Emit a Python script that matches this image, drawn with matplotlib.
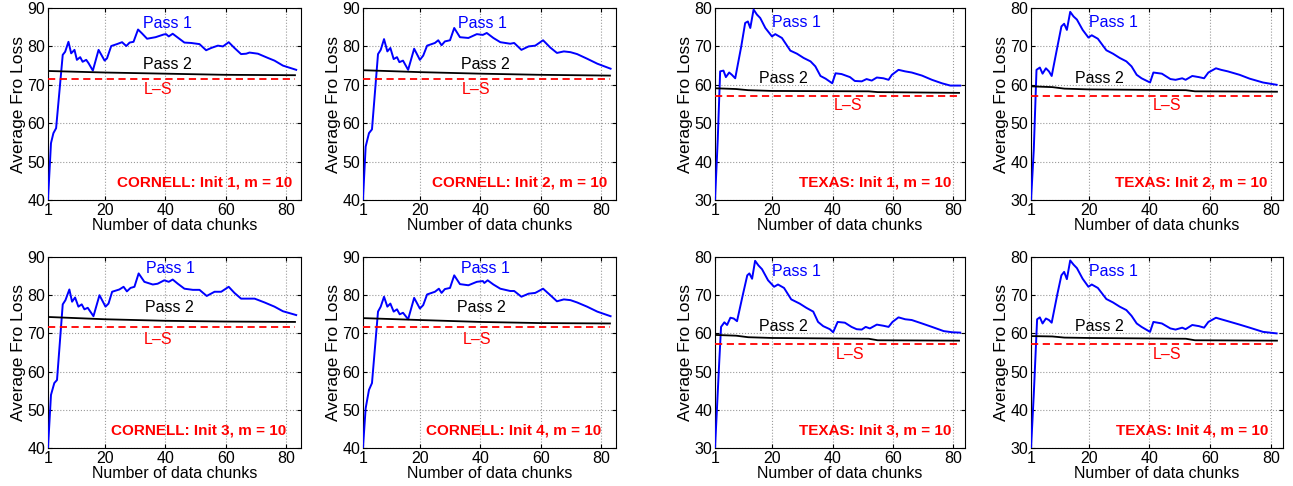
import matplotlib.pyplot as plt

plt.rcParams['font.family'] = ['Liberation Sans', 'DejaVu Sans']

# ---- CORNELL, pass 1 curves ----
c1_x = [1, 2, 2.8, 3.7, 5.9, 6.7, 7.8, 8.7, 9.8, 10.6, 11.7, 12.5, 13.7, 14.5, 15.9, 17.8, 19.8, 20.6, 22,
        23.9, 25.6, 27, 28.1, 29.4, 30.9, 32.2, 33.9, 36.7, 39.4, 40.2, 41.1, 42.4, 46.3, 48.5, 51.3, 53.5,
        55.2, 57.4, 59.1, 61, 62.9, 65.1, 66.8, 67.9, 70.7, 74, 76.2, 79, 83.4]
c1_y = [40, 54.8, 57.4, 58.7, 77.8, 78.6, 81.2, 78.2, 79.1, 76.5, 77.2, 76, 76.5, 75.6, 73.7, 79.1, 76.3, 76.9, 80.1,
        80.6, 81.1, 80.1, 81, 81.2, 84.4, 83.4, 82, 82.4, 83.1, 83.2, 82.6, 83.3, 81, 80.9, 80.6, 79,
        79.6, 80.2, 80, 81.1, 79.6, 78, 78.1, 78.4, 78.1, 77, 76.3, 75, 73.9]

c2_x = [1, 1.9, 3, 4, 6, 6.9, 8, 9.1, 10.1, 11.2, 12.3, 13.1, 14.3, 16, 18, 19.9, 21, 22.3, 24.9, 26, 27.1,
        28.2, 29.9, 31.3, 33.2, 36, 38.8, 40.8, 42.1, 44.3, 46.6, 49.9, 51.2, 53.6, 56, 58.2, 60.8, 63.2,
        65.4, 67.7, 69.9, 72.1, 75.4, 78.8, 83.2]
c2_y = [40, 53.9, 57.4, 58.4, 78, 79.1, 81.9, 78.7, 79.6, 76.7, 77.2, 75.9, 76.3, 73.9, 79.4, 76.5, 77.6, 80.2,
        80.9, 81.6, 80.3, 81.3, 81.6, 84.8, 82.4, 82.2, 83.2, 83, 83.5, 82.2, 81.1, 80.7, 80.9, 79.1, 80,
        80.2, 81.6, 79.7, 78.3, 78.7, 78.5, 78, 76.8, 75.5, 74.2]

c3_x = [1, 2, 3.1, 4, 5.9, 6.8, 8.1, 9, 10, 11.1, 12.2, 13.1, 14.2, 16.1, 18.1, 20.1, 21.1, 22.3, 24.7, 26.1,
        27.2, 28.4, 29.7, 31.1, 33, 35.8, 37.4, 39.6, 41.1, 42.4, 44.1, 46.3, 49.1, 51.3, 53.7, 56.3, 58.5,
        61, 62.9, 65.1, 67.3, 69.6, 72.9, 76.2, 79, 83.4]
c3_y = [40, 53.9, 57, 57.8, 77.6, 78.7, 81.5, 78.3, 79.4, 77, 77.6, 76.3, 76.7, 74.5, 80, 77, 77.8, 80.9, 81.5,
        82.2, 81, 81.9, 82.2, 85.7, 83.5, 82.8, 83, 83.9, 83.5, 84.1, 83, 81.7, 81.4, 81.4, 79.8, 80.9, 80.9,
        82.2, 80.6, 79.1, 79.1, 79.1, 78.1, 77, 75.8, 74.8]

c4_x = [1, 1.9, 3, 4, 6, 6.9, 8, 9.1, 10.1, 11.2, 12.3, 13.2, 14.3, 16, 18, 19.9, 21, 22.3, 24.9, 26.2, 27.1,
        28.2, 29.9, 31.3, 33.2, 36, 38.8, 40.8, 41.3, 42.4, 44.3, 46.6, 49.9, 51.2, 53.6, 56, 58.2, 60.8,
        63.2, 65.4, 67.7, 69.9, 72.1, 75.4, 78.8, 83.2]
c4_y = [40, 50.4, 55.2, 57, 75.7, 77, 79.6, 77, 77.8, 75.7, 76.3, 75, 75.4, 73.7, 79.3, 76.5, 77.4, 80.2, 80.9,
        81.7, 80.6, 81.6, 81.9, 85.2, 82.9, 82.6, 83.5, 83.7, 83.2, 83.9, 82.8, 81.7, 81.1, 81.1, 79.6, 80.4,
        80.6, 81.7, 80, 78.4, 78.9, 78.7, 78.1, 77, 75.7, 74.5]

# ---- TEXAS, pass 1 curves ----
t1_x = [1, 1.9, 2.7, 3.8, 4.6, 5.7, 6.6, 7.7, 9.7, 11, 11.9, 12.7, 13.8, 14.9, 16, 17.7, 19.9, 21, 23.2, 26,
        28.2, 30.4, 32.7, 34.3, 36, 37.7, 39.9, 41, 43, 45.8, 47.4, 49.7, 51.3, 53, 54.7, 56.9, 58.6, 59.7,
        61.9, 64.1, 66.3, 69.7, 73, 76.3, 79.1, 82.4]
t1_y = [30, 45.7, 63.5, 63.7, 62, 63.2, 62.6, 61.7, 70, 76.1, 76.5, 74.8, 79.6, 78.3, 77.4, 74.8, 72.6, 73.2,
        72.2, 68.9, 68.1, 67, 66.1, 64.8, 62.3, 61.6, 60.4, 63, 62.8, 62, 61, 60.9, 61.5, 61.1, 61.9, 61.7,
        61.3, 62.6, 63.9, 63.5, 63.2, 62.4, 61.3, 60.4, 59.8, 59.8]

t2_x = [1, 1.9, 2.8, 3.9, 4.8, 5.9, 6.9, 7.8, 9.7, 11, 11.9, 12.8, 13.9, 15, 16.1, 18, 19.9, 21, 23, 25.8,
        28, 30.2, 32.4, 34.1, 35.8, 37.4, 40.2, 41.3, 44.1, 46.9, 48.6, 50.8, 51.9, 54.1, 56.3, 58, 59.4,
        61.9, 63.6, 65.8, 69.7, 73, 77.4, 81.9]
t2_y = [30, 43, 63.9, 64.5, 62.9, 64.3, 63.5, 62.3, 70, 75.2, 75.9, 74.3, 79, 77.8, 77, 74.3, 72.3, 72.9, 72,
        69, 68.1, 67, 66.1, 64.8, 62.6, 61.7, 60.6, 63.2, 62.9, 61.5, 61.3, 61.7, 61.3, 62.3, 62, 61.7, 63.2,
        64.3, 63.9, 63.5, 62.6, 61.6, 60.6, 60]

t3_x = [1, 2.4, 3, 4.1, 5, 6.1, 7.2, 8.3, 10.2, 11.7, 12.4, 13.3, 14.3, 15.4, 16.6, 18.6, 20.6, 21.9, 23.9,
        26.3, 29.1, 31.3, 33.6, 35.2, 36.9, 39.1, 40.2, 41.7, 44.1, 46.3, 48, 49.7, 51, 52.4, 54.7, 56.9,
        58.6, 59.9, 61.9, 64.1, 66.3, 69.7, 73, 76.9, 79.7, 82.4]
t3_y = [30, 52.6, 61.7, 62.9, 62.2, 64.1, 63.9, 63.2, 70, 75.2, 75.7, 74.3, 79, 77.8, 76.8, 73.9, 72.2, 72.8,
        71.9, 68.9, 67.8, 66.7, 65.7, 63, 61.9, 61.1, 60.3, 63, 62.8, 61.7, 61.1, 61, 61.7, 61.3, 62.3, 62,
        61.7, 63, 64.2, 63.7, 63.5, 62.6, 61.7, 60.6, 60.3, 60.2]

t4_x = [1, 1.9, 3, 3.9, 4.8, 5.9, 6.9, 7.8, 9.7, 11, 11.9, 12.8, 13.9, 15, 16.1, 18, 19.9, 21, 23, 25.8,
        28, 30.2, 32.4, 34.1, 35.8, 37.4, 40.2, 41.3, 44.1, 46.9, 48.6, 50.8, 51.9, 54.1, 56.3, 58, 59.4,
        61.9, 63.6, 65.8, 69.7, 73, 77.4, 81.9]
t4_y = [30, 44, 63.7, 64.2, 62.6, 63.9, 63.5, 62.8, 70.4, 75.2, 76.1, 74.2, 79.1, 78, 77.1, 74.3, 72.2, 72.8,
        71.9, 69, 68.1, 67, 66.1, 64.6, 62.6, 61.7, 60.4, 63, 62.6, 61.3, 61, 61.5, 61.1, 62.2, 61.9, 61.5,
        63, 64.1, 63.7, 63.2, 62.3, 61.5, 60.4, 60]

# ---- pass 2 curves ----
cp2_x = [1, 20, 40, 60, 83]
c1_p2 = [73.6, 73.2, 72.9, 72.6, 72.5]
c2_p2 = [73.8, 73.3, 72.9, 72.6, 72.4]
c3_p2 = [74.3, 73.7, 73.3, 73.1, 73.0]
c4_p2 = [74.0, 73.5, 73.0, 72.7, 72.6]

tp2_x = [1, 8, 12, 20, 52, 55, 82]
t1_p2 = [59.1, 58.9, 58.6, 58.4, 58.3, 58.1, 57.9]
t2_p2 = [59.6, 59.4, 59.0, 58.8, 58.6, 58.3, 58.2]
t3_p2 = [59.6, 59.4, 59.0, 58.8, 58.6, 58.2, 58.1]
t4_p2 = [59.3, 59.2, 58.9, 58.8, 58.6, 58.2, 58.1]

# ---- L-S levels ----
cornell_ls = [71.5, 71.4, 71.7, 71.7]
texas_ls = [57.1, 57.1, 57.2, 57.1]

xticks = [1, 20, 40, 60, 80]

# axes boxes in figure fractions (left, bottom, width, height)
col_left = [0.0371, 0.2807, 0.553, 0.7974]
col_width = [0.1957, 0.1957, 0.1934, 0.1949]
row_bottom = [0.5885, 0.0782]
row_height = [0.395, 0.393]

fig = plt.figure(figsize=(12.93, 4.86), dpi=100)

cornell_p1 = [(c1_x, c1_y), (c2_x, c2_y), (c3_x, c3_y), (c4_x, c4_y)]
cornell_p2 = [c1_p2, c2_p2, c3_p2, c4_p2]
texas_p1 = [(t1_x, t1_y), (t2_x, t2_y), (t3_x, t3_y), (t4_x, t4_y)]
texas_p2 = [t1_p2, t2_p2, t3_p2, t4_p2]

# label positions per panel: pass1, pass2, L-S, info right end
cornell_lbl = [((40.8, 86.0), (40.8, 75.4), (37.4, 68.8), 82.2),
               ((40.8, 86.0), (41.5, 75.4), (38.6, 68.9), 82.0),
               ((41.8, 87.0), (41.4, 76.8), (37.6, 68.5), 80.0),
               ((41.6, 87.0), (40.4, 76.8), (38.8, 68.4), 80.1)]
texas_lbl = [((28, 76.3), (23.6, 61.7), (45.2, 54.5), 79.5),
             ((28, 76.3), (23.4, 61.7), (45.8, 54.5), 79.0),
             ((28, 76.3), (23.6, 61.7), (45.8, 54.5), 79.5),
             ((28, 76.3), (23.4, 61.7), (45.8, 54.5), 79.2)]


def draw_panel(ax, p1, p2x, p2, ls, lbl, ylim, xmax, yticks, title):
    ax.plot(p1[0], p1[1], color='b', lw=1.4, zorder=3)
    ax.plot(p2x, p2, color='k', lw=1.3, zorder=3)
    ax.plot([1, p2x[-1]], [ls, ls], color='r', lw=1.3, ls=(0, (4, 2.5)), zorder=3)
    ax.set_xlim(1, xmax)
    ax.set_ylim(*ylim)
    ax.set_xticks(xticks)
    ax.set_yticks(yticks)
    ax.grid(True, color='#9a9a9a', ls=':', lw=0.8)
    ax.tick_params(direction='in', length=3, top=True, right=True, labelsize=11.5, pad=2)
    ax.set_xlabel('Number of data chunks', fontsize=11.5, labelpad=0)
    ax.set_ylabel('Average Fro Loss', fontsize=12.5, labelpad=1)
    (a, b), (c, d), (e, f), xr = lbl
    ax.text(a, b, 'Pass 1', color='b', fontsize=11.5, ha='center', va='center')
    ax.text(c, d, 'Pass 2', color='k', fontsize=11.5, ha='center', va='center')
    ax.text(e, f, 'L\u2013S', color='r', fontsize=11.5, ha='center', va='center')
    ax.text(xr, ylim[0] + 0.09 * (ylim[1] - ylim[0]), title, color='r', fontsize=11,
            fontweight='bold', ha='right', va='center')


for i in range(4):
    r, c = divmod(i, 2)
    ax = fig.add_axes([col_left[c], row_bottom[r], col_width[c], row_height[r]])
    draw_panel(ax, cornell_p1[i], cp2_x, cornell_p2[i], cornell_ls[i], cornell_lbl[i],
               (40, 90), 85, [40, 50, 60, 70, 80, 90], 'CORNELL: Init %d, m = 10' % (i + 1))

for i in range(4):
    r, c = divmod(i, 2)
    ax = fig.add_axes([col_left[c + 2], row_bottom[r], col_width[c + 2], row_height[r]])
    draw_panel(ax, texas_p1[i], tp2_x, texas_p2[i], texas_ls[i], texas_lbl[i],
               (30, 80), 84, [30, 40, 50, 60, 70, 80], 'TEXAS: Init %d, m = 10' % (i + 1))

fig.savefig('out.png', dpi=100)
